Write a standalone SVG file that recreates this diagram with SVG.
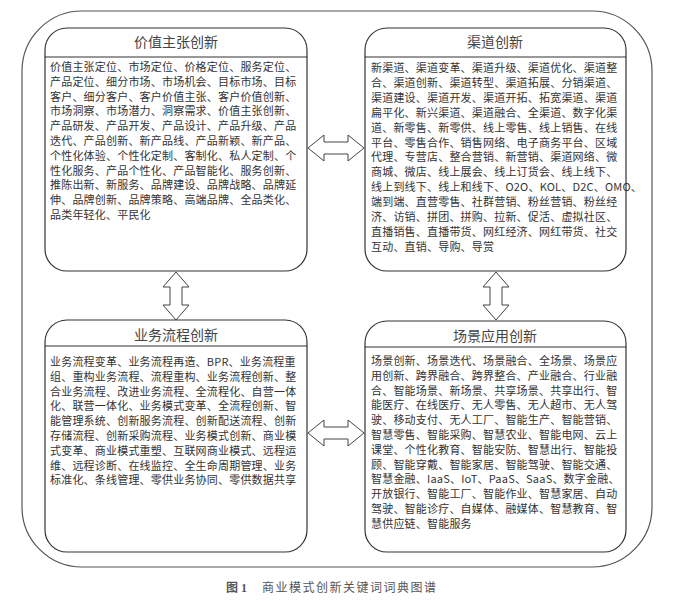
<svg xmlns="http://www.w3.org/2000/svg" width="680" height="602" viewBox="0 0 680 602">
<style>
.box{fill:#fff;stroke:#333;stroke-width:1.2}
.hdr{stroke:#333;stroke-width:1.1}
.ttl{font-family:"Noto Sans CJK SC","Noto Sans",sans-serif;font-size:14px;fill:#444;text-anchor:middle}
.body{font-family:"Noto Sans CJK SC","Noto Sans",sans-serif;font-size:11px;fill:#333;letter-spacing:0.2px}
.arr{fill:#fff;stroke:#444;stroke-width:1}
.cap{font-family:"Liberation Serif","Noto Sans CJK SC",serif;font-size:12px;fill:#555}
</style>
<rect x="0" y="0" width="680" height="602" fill="#fff"/>
<rect x="22" y="11" width="630" height="556" rx="60" ry="60" fill="none" stroke="#555" stroke-width="1.2"/>

<g id="value">
<rect class="box" x="45" y="28" width="262" height="243" rx="22"/>
<line class="hdr" x1="45" y1="57" x2="307" y2="57"/>
<text class="ttl" x="176" y="47">价值主张创新</text>
<text class="body" x="50">
<tspan x="50" y="71">价值主张定位、市场定位、价格定位、服务定位、</tspan>
<tspan x="50" y="85.8">产品定位、细分市场、市场机会、目标市场、目标</tspan>
<tspan x="50" y="100.6">客户、细分客户、客户价值主张、客户价值创新、</tspan>
<tspan x="50" y="115.4">市场洞察、市场潜力、洞察需求、价值主张创新、</tspan>
<tspan x="50" y="130.2">产品研发、产品开发、产品设计、产品升级、产品</tspan>
<tspan x="50" y="145">迭代、产品创新、新产品线、产品新颖、新产品、</tspan>
<tspan x="50" y="159.8">个性化体验、个性化定制、客制化、私人定制、个</tspan>
<tspan x="50" y="174.6">性化服务、产品个性化、产品智能化、服务创新、</tspan>
<tspan x="50" y="189.4">推陈出新、新服务、品牌建设、品牌战略、品牌延</tspan>
<tspan x="50" y="204.2">伸、品牌创新、品牌策略、高端品牌、全品类化、</tspan>
<tspan x="50" y="219">品类年轻化、平民化</tspan>
</text>
</g>

<g id="channel">
<rect class="box" x="365" y="28" width="261" height="243" rx="22"/>
<line class="hdr" x1="365" y1="57" x2="626" y2="57"/>
<text class="ttl" x="495" y="47">渠道创新</text>
<text class="body">
<tspan x="371" y="72">新渠道、渠道变革、渠道升级、渠道优化、渠道整</tspan>
<tspan x="371" y="86.9">合、渠道创新、渠道转型、渠道拓展、分销渠道、</tspan>
<tspan x="371" y="101.8">渠道建设、渠道开发、渠道开拓、拓宽渠道、渠道</tspan>
<tspan x="371" y="116.7">扁平化、新兴渠道、渠道融合、全渠道、数字化渠</tspan>
<tspan x="371" y="131.6">道、新零售、新零供、线上零售、线上销售、在线</tspan>
<tspan x="371" y="146.5">平台、零售合作、销售网络、电子商务平台、区域</tspan>
<tspan x="371" y="161.4">代理、专营店、整合营销、新营销、渠道网络、微</tspan>
<tspan x="371" y="176.3">商城、微店、线上展会、线上订货会、线上线下、</tspan>
<tspan x="371" y="191.2">线上到线下、线上和线下、O2O、KOL、D2C、OMO、</tspan>
<tspan x="371" y="206.1">端到端、直营零售、社群营销、粉丝营销、粉丝经</tspan>
<tspan x="371" y="221">济、访销、拼团、拼购、拉新、促活、虚拟社区、</tspan>
<tspan x="371" y="235.9">直播销售、直播带货、网红经济、网红带货、社交</tspan>
<tspan x="371" y="250.8">互动、直销、导购、导赏</tspan>
</text>
</g>

<g id="process">
<rect class="box" x="45" y="320" width="262" height="232" rx="22"/>
<line class="hdr" x1="45" y1="346" x2="307" y2="346"/>
<text class="ttl" x="176" y="340">业务流程创新</text>
<text class="body">
<tspan x="50" y="366">业务流程变革、业务流程再造、BPR、业务流程重</tspan>
<tspan x="50" y="380.8">组、重构业务流程、流程重构、业务流程创新、整</tspan>
<tspan x="50" y="395.6">合业务流程、改进业务流程、全流程化、自营一体</tspan>
<tspan x="50" y="410.4">化、联营一体化、业务模式变革、全流程创新、智</tspan>
<tspan x="50" y="425.2">能管理系统、创新服务流程、创新配送流程、创新</tspan>
<tspan x="50" y="440">存储流程、创新采购流程、业务模式创新、商业模</tspan>
<tspan x="50" y="454.8">式变革、商业模式重塑、互联网商业模式、远程运</tspan>
<tspan x="50" y="469.6">维、远程诊断、在线监控、全生命周期管理、业务</tspan>
<tspan x="50" y="484.4">标准化、条线管理、零供业务协同、零供数据共享</tspan>
</text>
</g>

<g id="scene">
<rect class="box" x="365" y="321" width="261" height="231" rx="22"/>
<line class="hdr" x1="365" y1="347" x2="626" y2="347"/>
<text class="ttl" x="495" y="341">场景应用创新</text>
<text class="body">
<tspan x="371" y="365">场景创新、场景迭代、场景融合、全场景、场景应</tspan>
<tspan x="371" y="379.8">用创新、跨界融合、跨界整合、产业融合、行业融</tspan>
<tspan x="371" y="394.6">合、智能场景、新场景、共享场景、共享出行、智</tspan>
<tspan x="371" y="409.4">能医疗、在线医疗、无人零售、无人超市、无人驾</tspan>
<tspan x="371" y="424.2">驶、移动支付、无人工厂、智能生产、智能营销、</tspan>
<tspan x="371" y="439">智慧零售、智能采购、智慧农业、智能电网、云上</tspan>
<tspan x="371" y="453.8">课堂、个性化教育、智能安防、智慧出行、智能投</tspan>
<tspan x="371" y="468.6">顾、智能穿戴、智能家居、智能驾驶、智能交通、</tspan>
<tspan x="371" y="483.4">智慧金融、IaaS、IoT、PaaS、SaaS、数字金融、</tspan>
<tspan x="371" y="498.2">开放银行、智能工厂、智能作业、智慧家居、自动</tspan>
<tspan x="371" y="513">驾驶、智能诊疗、自媒体、融媒体、智慧教育、智</tspan>
<tspan x="371" y="527.8">慧供应链、智能服务</tspan>
</text>
</g>

<g id="connectors">
<polygon class="arr" points="308,148 324,135 324,142 348,142 348,135 364,148 348,161 348,154 324,154 324,161"/>
<polygon class="arr" points="308,433 324,420 324,427 348,427 348,420 364,433 348,446 348,439 324,439 324,446"/>
<polygon class="arr" points="176,272 189,287 182,287 182,305 189,305 176,320 163,305 170,305 170,287 163,287"/>
<polygon class="arr" points="496,272 509,287 502,287 502,305 509,305 496,320 483,305 490,305 490,287 483,287"/>
</g>

<text class="cap" x="226" y="592"><tspan font-weight="bold">图 1</tspan><tspan x="262" letter-spacing="1.5">商业模式创新关键词词典图谱</tspan></text>
</svg>
